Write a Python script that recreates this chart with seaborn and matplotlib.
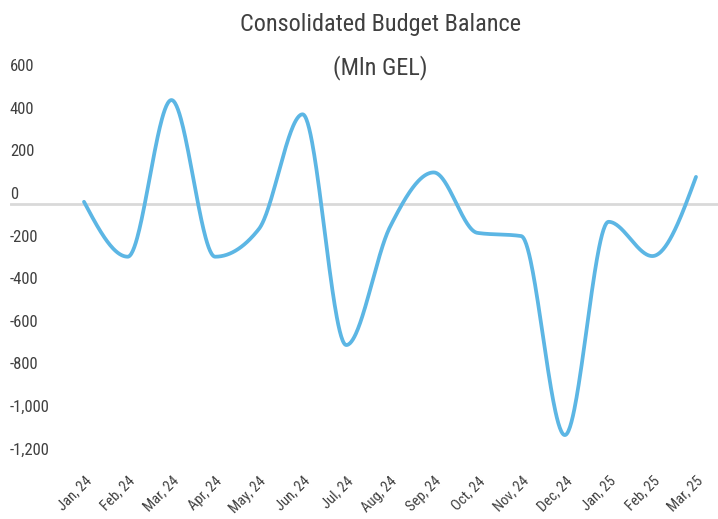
import numpy as np
import pandas as pd
import matplotlib
matplotlib.use("Agg")
import matplotlib.pyplot as plt
import matplotlib.transforms as mtransforms
import seaborn as sns
from matplotlib import font_manager

months = ["Jan, 24", "Feb, 24", "Mar, 24", "Apr, 24", "May, 24", "Jun, 24", "Jul, 24",
          "Aug, 24", "Sep, 24", "Oct, 24", "Nov, 24", "Dec, 24", "Jan, 25", "Feb, 25", "Mar, 25"]
balance = [8, -250, 486, -250, -120, 419, -665, -110, 146, -138, -153, -1088, -86, -247, 125]
y_ticks = [600, 400, 200, 0, -200, -400, -600, -800, -1000, -1200]
title_line1 = "Consolidated Budget Balance"
title_line2 = "(Mln GEL)"

sns.set_theme(style="white")
names = {f.name for f in font_manager.fontManager.ttflist}
fam = [f for f in ["Liberation Sans Narrow", "Roboto Condensed", "Open Sans Condensed", "Lato", "DejaVu Sans"] if f in names]
plt.rcParams['font.family'] = fam

TXT = "#404040"
LINE = "#5CB6E4"


def monotone_curve(y, n=60):
    """Monotone cubic (Steffen) interpolation, like d3.curveMonotoneX."""
    y = np.asarray(y, float)
    x = np.arange(len(y), dtype=float)
    h = np.diff(x)
    s = np.diff(y) / h
    m = np.zeros_like(y)
    for i in range(1, len(y) - 1):
        s0, s1 = s[i-1], s[i]
        p = (s0 * h[i] + s1 * h[i-1]) / (h[i-1] + h[i])
        sg = (-1 if s0 < 0 else 1) + (-1 if s1 < 0 else 1)
        m[i] = sg * min(abs(s0), abs(s1), 0.5 * abs(p))
    m[0] = (3 * s[0] - m[1]) / 2
    m[-1] = (3 * s[-1] - m[-2]) / 2
    xs, ys = [], []
    t = np.linspace(0, 1, n, endpoint=False)
    for i in range(len(y) - 1):
        hh = h[i]
        h00 = 2*t**3 - 3*t**2 + 1
        h10 = t**3 - 2*t**2 + t
        h01 = -2*t**3 + 3*t**2
        h11 = t**3 - t**2
        xs.append(x[i] + t * hh)
        ys.append(h00*y[i] + h10*hh*m[i] + h01*y[i+1] + h11*hh*m[i+1])
    xs.append([x[-1]]); ys.append([y[-1]])
    return np.concatenate(xs), np.concatenate(ys)


W, H = 718, 519
fig = plt.figure(figsize=(W/100, H/100), dpi=100)
ax = fig.add_axes([10/W, (H-458.9)/H, (718-10)/W, (458.9-75.8)/H])

sx, sy = monotone_curve(balance)
df = pd.DataFrame({"x": sx, "y": sy})
ax.axhline(0, color="#D9D9D9", lw=2.0, zorder=1)
sns.lineplot(data=df, x="x", y="y", ax=ax, color=LINE, lw=2.7, sort=False, zorder=3)

ax.set_xlim(-(84-10)/43.71, 14 + (718-696)/43.71)
ax.set_ylim(-1200, 600)
for s in ax.spines.values():
    s.set_visible(False)
ax.set_xlabel("")
ax.set_ylabel("")

ax.set_yticks(y_ticks)
ax.set_yticklabels([f"{v:,}" for v in y_ticks])
ax.tick_params(axis="y", length=0, pad=0, labelsize=12, labelcolor=TXT)

ax.set_xticks(range(len(months)))
ax.set_xticklabels(months, rotation=45, ha="right", va="top", fontsize=10.5, color=TXT)
ax.tick_params(axis="x", length=0, pad=10.8)

off = mtransforms.ScaledTranslation(0, 10.5/100, fig.dpi_scale_trans)
for lab in ax.get_yticklabels():
    lab.set_horizontalalignment("left")
    lab.set_x(0)
    lab.set_transform(lab.get_transform() + off)

xoff = mtransforms.ScaledTranslation(10/100, 0, fig.dpi_scale_trans)
for lab in ax.get_xticklabels():
    lab.set_transform(lab.get_transform() + xoff)

fig.text(380/W, 1 - 25/H, title_line1, ha="center", va="center", fontsize=17.5, color=TXT)
fig.text(380/W, 1 - 68/H, title_line2, ha="center", va="center", fontsize=17.5, color=TXT)

fig.savefig("out.png", dpi=100)
